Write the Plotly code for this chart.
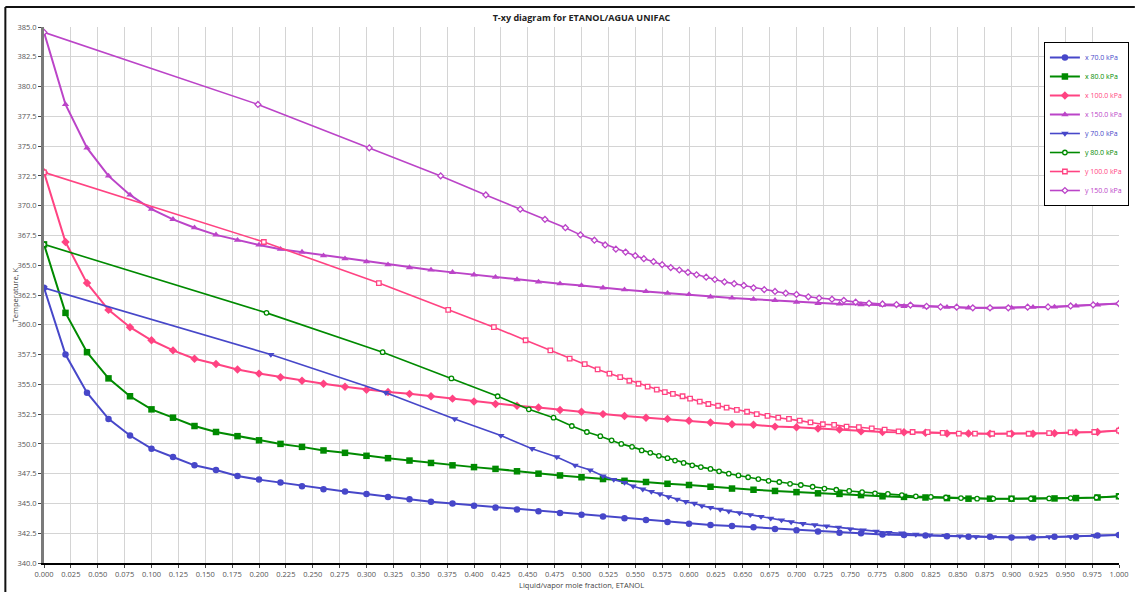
import plotly.graph_objects as go

# ---------------- data ----------------
x_liq = [0.00, 0.02, 0.04, 0.06, 0.08, 0.10, 0.12, 0.14, 0.16, 0.18,
         0.20, 0.22, 0.24, 0.26, 0.28, 0.30, 0.32, 0.34, 0.36, 0.38,
         0.40, 0.42, 0.44, 0.46, 0.48, 0.50, 0.52, 0.54, 0.56, 0.58,
         0.60, 0.62, 0.64, 0.66, 0.68, 0.70, 0.72, 0.74, 0.76, 0.78,
         0.80, 0.82, 0.84, 0.86, 0.88, 0.90, 0.92, 0.94, 0.96, 0.98,
         1.00]

T_70 = [363.1, 357.5, 354.3, 352.1, 350.7, 349.6, 348.9, 348.2, 347.8, 347.3,
        347.0, 346.75, 346.45, 346.2, 346.0, 345.8, 345.55, 345.35, 345.15, 345.0,
        344.8, 344.65, 344.5, 344.35, 344.2, 344.05, 343.9, 343.75, 343.6, 343.45,
        343.3, 343.2, 343.1, 343.0, 342.85, 342.75, 342.65, 342.55, 342.5, 342.4,
        342.35, 342.3, 342.25, 342.2, 342.2, 342.15, 342.15, 342.2, 342.2, 342.3,
        342.35]
y_70 = [0.0, 0.211, 0.318, 0.382, 0.425, 0.454, 0.477, 0.494, 0.508, 0.520,
        0.530, 0.540, 0.548, 0.557, 0.565, 0.573, 0.581, 0.589, 0.597, 0.605,
        0.612, 0.620, 0.629, 0.637, 0.647, 0.657, 0.667, 0.676, 0.686, 0.695,
        0.706, 0.717, 0.728, 0.739, 0.750, 0.762, 0.774, 0.786, 0.798, 0.811,
        0.824, 0.838, 0.852, 0.867, 0.883, 0.900, 0.917, 0.935, 0.955, 0.977,
        1.0]

T_80 = [366.75, 361.0, 357.7, 355.5, 354.0, 352.9, 352.2, 351.5, 351.0, 350.65,
        350.3, 350.0, 349.75, 349.45, 349.25, 349.0, 348.8, 348.6, 348.4, 348.2,
        348.05, 347.9, 347.7, 347.5, 347.35, 347.2, 347.05, 346.9, 346.8, 346.65,
        346.55, 346.4, 346.25, 346.15, 346.05, 345.95, 345.85, 345.8, 345.7, 345.6,
        345.55, 345.5, 345.45, 345.4, 345.4, 345.4, 345.4, 345.42, 345.45, 345.5,
        345.6]
y_80 = [0.0, 0.207, 0.315, 0.379, 0.422, 0.451, 0.474, 0.491, 0.505, 0.5175,
        0.528, 0.537, 0.547, 0.556, 0.564, 0.572, 0.580, 0.587, 0.595, 0.603,
        0.611, 0.620, 0.628, 0.637, 0.646, 0.655, 0.6645, 0.674, 0.684, 0.694,
        0.704, 0.715, 0.726, 0.737, 0.749, 0.761, 0.773, 0.785, 0.798, 0.811,
        0.825, 0.839, 0.853, 0.868, 0.883, 0.900, 0.918, 0.935, 0.955, 0.979,
        1.0]

T_100 = [372.8, 366.95, 363.5, 361.25, 359.8, 358.7, 357.85, 357.15, 356.7, 356.25,
         355.9, 355.6, 355.3, 355.05, 354.8, 354.55, 354.35, 354.2, 354.0, 353.8,
         353.55, 353.35, 353.2, 353.05, 352.85, 352.7, 352.5, 352.35, 352.2, 352.1,
         351.95, 351.8, 351.65, 351.6, 351.45, 351.4, 351.3, 351.2, 351.05, 351.0,
         350.98, 350.93, 350.87, 350.87, 350.85, 350.85, 350.85, 350.9, 350.96, 351.0,
         351.12]
y_100 = [0.0, 0.2045, 0.3115, 0.376, 0.4185, 0.448, 0.471, 0.489, 0.503, 0.515,
         0.526, 0.536, 0.5445, 0.553, 0.5615, 0.570, 0.5775, 0.585, 0.594, 0.601,
         0.610, 0.618, 0.627, 0.635, 0.6445, 0.654, 0.663, 0.673, 0.683, 0.693,
         0.703, 0.713, 0.7245, 0.735, 0.7466, 0.758, 0.770, 0.782, 0.795, 0.808,
         0.822, 0.836, 0.851, 0.866, 0.882, 0.898, 0.916, 0.935, 0.955, 0.977,
         1.0]

T_150 = [384.55, 378.5, 374.85, 372.5, 370.9, 369.7, 368.85, 368.15, 367.55, 367.1,
         366.7, 366.35, 366.1, 365.8, 365.55, 365.3, 365.05, 364.8, 364.6, 364.4,
         364.2, 364.0, 363.8, 363.6, 363.45, 363.3, 363.1, 362.95, 362.8, 362.65,
         362.55, 362.35, 362.25, 362.15, 362.05, 361.9, 361.8, 361.75, 361.7, 361.65,
         361.55, 361.5, 361.48, 361.42, 361.42, 361.42, 361.48, 361.5, 361.58, 361.67,
         361.78]
y_150 = [0.0, 0.199, 0.3026, 0.369, 0.411, 0.443, 0.466, 0.485, 0.499, 0.512,
         0.522, 0.532, 0.541, 0.550, 0.558, 0.567, 0.575, 0.583, 0.591, 0.599,
         0.607, 0.616, 0.624, 0.633, 0.642, 0.651, 0.660, 0.670, 0.680, 0.690,
         0.700, 0.711, 0.721, 0.733, 0.744, 0.755, 0.7675, 0.780, 0.793, 0.806,
         0.821, 0.834, 0.849, 0.864, 0.880, 0.897, 0.915, 0.934, 0.955, 0.976,
         1.0]

pressures = ["70.0 kPa", "80.0 kPa", "100.0 kPa", "150.0 kPa"]
T_sets = [T_70, T_80, T_100, T_150]
y_sets = [y_70, y_80, y_100, y_150]
colors = ["#4747c9", "#008a00", "#ff4382", "#bb44c8"]
x_symbols = ["circle", "square", "diamond", "triangle-up"]
y_symbols = ["triangle-down", "circle", "square", "diamond"]
y_filled = [True, False, False, False]

x_ticks = [i * 0.025 for i in range(41)]
y_ticks = [340 + i * 2.5 for i in range(19)]

# ---------------- figure ----------------
fig = go.Figure()

for p, T, c, s in zip(pressures, T_sets, colors, x_symbols):
    fig.add_trace(go.Scatter(
        x=x_liq, y=T, mode="lines+markers",
        name=f"<span style='color:{c}'>x {p}</span>",
        line=dict(color=c, width=2),
        marker=dict(symbol=s, size=6.5, color=c, line=dict(width=0)),
    ))

for p, T, yv, c, s, filled in zip(pressures, T_sets, y_sets, colors, y_symbols, y_filled):
    if filled:
        mk = dict(symbol=s, size=6.5, color=c, line=dict(width=0))
    else:
        mk = dict(symbol=s, size=4.5, color="white", line=dict(color=c, width=1.3))
    fig.add_trace(go.Scatter(
        x=yv, y=T, mode="lines+markers",
        name=f"<span style='color:{c}'>y {p}</span>",
        line=dict(color=c, width=1.6),
        marker=mk,
    ))

W, H = 1139, 592
ml, mr, mt, mb = 44, 10, 27, 29
pw, ph = W - ml - mr, H - mt - mb


def px_x(px):
    return (px - ml) / pw


def px_y(py):
    return (H - mb - py) / ph


font_family = "Open Sans, Noto Sans, sans-serif"

fig.update_layout(
    width=W, height=H,
    margin=dict(l=ml, r=mr, t=mt, b=mb),
    paper_bgcolor="white", plot_bgcolor="white",
    font=dict(family=font_family, size=8, color="#444444"),
    title=dict(text="<b>T-xy diagram for ETANOL/AGUA UNIFAC</b>",
               font=dict(size=9, color="#222222"),
               x=0.5, xref="paper", xanchor="center",
               y=1 - 18 / H, yref="container", yanchor="middle"),
    showlegend=True,
    legend=dict(x=px_x(1139), xanchor="right", y=px_y(42), yanchor="top",
                bgcolor="white", bordercolor="black", borderwidth=1,
                font=dict(size=7, family=font_family),
                itemwidth=30, tracegroupgap=0),
    xaxis=dict(range=[0, 1], tickmode="array", tickvals=x_ticks,
               ticktext=[f"{v:.3f}" for v in x_ticks],
               showgrid=True, gridcolor="#d4d4d4", gridwidth=1,
               zeroline=False, showline=True, linecolor="black", linewidth=2,
               ticks="outside", ticklen=3, tickcolor="#444444",
               tickfont=dict(size=7.5, color="#555555")),
    yaxis=dict(range=[340, 385], tickmode="array", tickvals=y_ticks,
               ticktext=[f"{v:.1f}" for v in y_ticks],
               showgrid=True, gridcolor="#d4d4d4", gridwidth=1,
               zeroline=False, showline=True, linecolor="#7a7a7a", linewidth=3,
               ticks="outside", ticklen=3, tickcolor="#444444",
               tickfont=dict(size=7.5, color="#555555")),
    annotations=[
        dict(text="Liquid/vapor mole fraction, ETANOL", xref="paper", yref="paper",
             x=0.5, y=px_y(585), xanchor="center", yanchor="middle",
             showarrow=False, font=dict(size=7.5, color="#444444")),
        dict(text="Temperature, K", xref="paper", yref="paper",
             x=px_x(15), y=0.5, xanchor="center", yanchor="middle",
             textangle=-90, showarrow=False, font=dict(size=7.5, color="#444444")),
    ],
    shapes=[
        dict(type="line", xref="paper", yref="paper",
             x0=px_x(5), x1=px_x(1145), y0=px_y(7), y1=px_y(7),
             line=dict(color="#111111", width=2)),
        dict(type="line", xref="paper", yref="paper",
             x0=px_x(5), x1=px_x(5), y0=px_y(7), y1=px_y(600),
             line=dict(color="#111111", width=2)),
    ],
)

fig.write_html("out.html",
               config={"displayModeBar": False},
               post_script="document.body.style.margin='0';document.body.style.overflow='hidden';")
